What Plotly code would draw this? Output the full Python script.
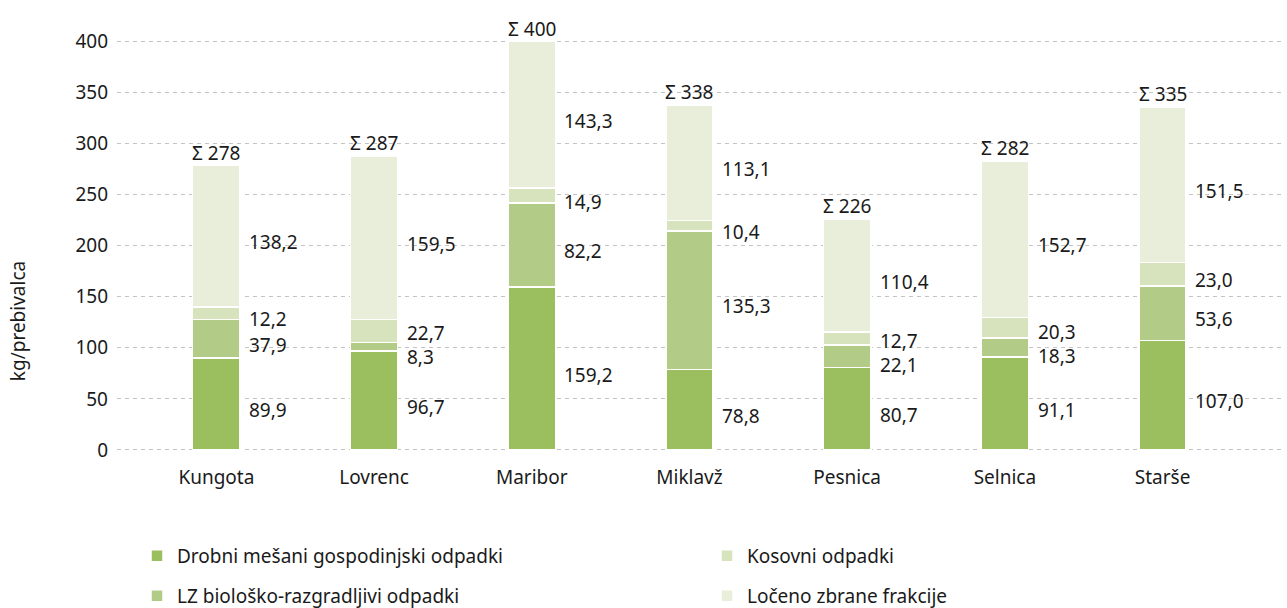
import plotly.graph_objects as go

categories = ["Kungota", "Lovrenc", "Maribor", "Miklavž", "Pesnica", "Selnica", "Starše"]
drobni = [89.9, 96.7, 159.2, 78.8, 80.7, 91.1, 107.0]
lz_bio = [37.9, 8.3, 82.2, 135.3, 22.1, 18.3, 53.6]
kosovni = [12.2, 22.7, 14.9, 10.4, 12.7, 20.3, 23.0]
loceno = [138.2, 159.5, 143.3, 113.1, 110.4, 152.7, 151.5]
series_names = ["Drobni mešani gospodinjski odpadki", "LZ biološko-razgradljivi odpadki",
                "Kosovni odpadki", "Ločeno zbrane frakcije"]
y_ticks = [0, 50, 100, 150, 200, 250, 300, 350, 400]

series = [drobni, lz_bio, kosovni, loceno]
colors = ["#9bbe5f", "#b2cc88", "#d6e3bd", "#e8eed9"]
ranks = [1, 3, 2, 4]
legends = ["legend", "legend2", "legend", "legend2"]

FONT = "Noto Sans"
FS = 19
TXT = "#1a1a1a"
W, H = 1287, 608
ML, MR, MT, MB = 117, 3, 37, 156
XR = [-0.63, 6.77]
YR = [-2, 404]
BW = 0.3
plot_w = W - ML - MR
plot_h = H - MT - MB
px_per_cat = plot_w / (XR[1] - XR[0])
px_per_unit = plot_h / (YR[1] - YR[0])

def fmt(v):
    return f"{v:.1f}".replace(".", ",")

fig = go.Figure()
for name, vals, col, rk, lg in zip(series_names, series, colors, ranks, legends):
    fig.add_trace(go.Bar(
        x=categories, y=vals, name=name, marker=dict(color=col, line=dict(color="white", width=1.5)),
        width=BW, legendrank=rk, legend=lg, hoverinfo="skip",
    ))

annotations = []
min_gap = 24 / px_per_unit
xshift = BW / 2 * px_per_cat + 7
for i, cat in enumerate(categories):
    base = 0
    mids = []
    for s in series:
        mids.append(base + s[i] / 2)
        base += s[i]
    total = base
    pos = list(mids)
    for _ in range(50):
        moved = False
        for k in range(len(pos) - 1):
            if pos[k + 1] - pos[k] < min_gap - 1e-9:
                c = (pos[k + 1] + pos[k]) / 2
                pos[k] = c - min_gap / 2
                pos[k + 1] = c + min_gap / 2
                moved = True
        if not moved:
            break
    for k, s in enumerate(series):
        annotations.append(dict(
            x=cat, y=pos[k] - 6, xref="x", yref="y", text=fmt(s[i]), showarrow=False,
            xanchor="left", yanchor="middle", xshift=xshift,
            font=dict(family=FONT, size=FS, color=TXT),
        ))
    annotations.append(dict(
        x=cat, y=total, xref="x", yref="y", text=f"Σ {round(total)}", showarrow=False,
        xanchor="center", yanchor="bottom", yshift=-2,
        font=dict(family=FONT, size=FS, color=TXT),
    ))

annotations.append(dict(
    x=-99 / plot_w, y=126, xref="paper", yref="y", text="kg/prebivalca", textangle=-90,
    showarrow=False, xanchor="center", yanchor="middle",
    font=dict(family=FONT, size=FS, color=TXT),
))

leg_common = dict(orientation="h", xref="container", yref="container", x=137 / W,
                  xanchor="left", yanchor="middle", entrywidth=525, entrywidthmode="pixels",
                  font=dict(family=FONT, size=FS, color=TXT), traceorder="normal")

fig.update_layout(
    width=W, height=H,
    margin=dict(l=ML, r=MR, t=MT, b=MB),
    barmode="stack",
    plot_bgcolor="white", paper_bgcolor="white",
    font=dict(family=FONT, size=FS, color=TXT),
    separators=",.",
    annotations=annotations,
    xaxis=dict(range=XR, showgrid=False, zeroline=False, showline=False, ticks="",
               ticklabelstandoff=12, tickfont=dict(size=FS), fixedrange=True),
    yaxis=dict(range=YR, tickvals=y_ticks, showgrid=True, gridcolor="#c4c4c4", griddash="4px,4px",
               gridwidth=1, zeroline=False, showline=False, ticks="", ticklabelstandoff=8,
               tickfont=dict(size=FS), fixedrange=True),
    legend=dict(leg_common, y=1 - 556 / H),
    legend2=dict(leg_common, y=1 - 596 / H),
)

fig.write_html("out.html", config={"displayModeBar": False},
               post_script="document.body.style.margin='0';")
